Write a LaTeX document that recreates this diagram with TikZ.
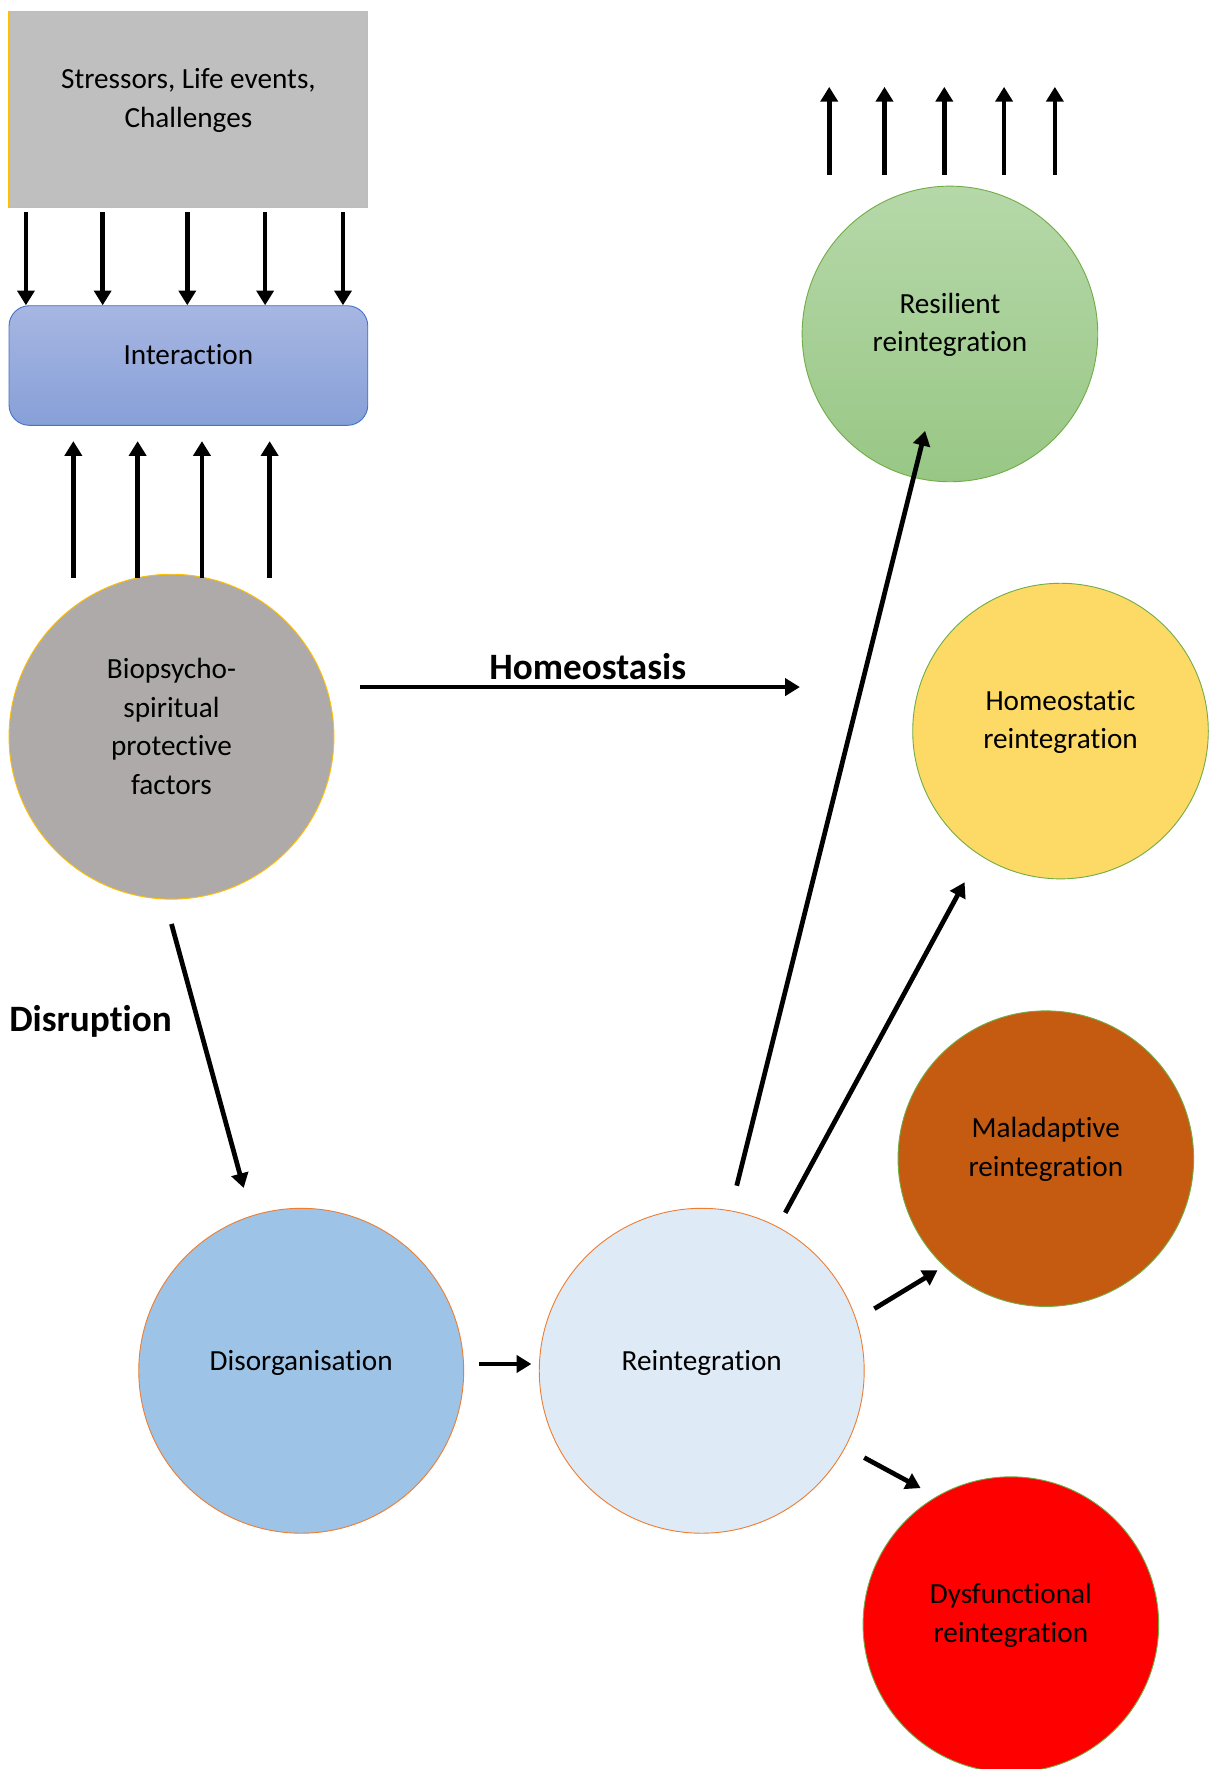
\documentclass[tikz,border=0pt]{standalone}
\usepackage{fontspec}
\setmainfont{Carlito}[RawFeature={-liga;-clig;-calt;-dlig}]
\usetikzlibrary{arrows.meta}
\definecolor{gold}{HTML}{FFC000}
\definecolor{greyfill}{HTML}{BFBFBF}
\definecolor{blueedge}{HTML}{4472C4}
\definecolor{intertop}{HTML}{A7B6E2}
\definecolor{interbot}{HTML}{87A0D8}
\definecolor{biofill}{HTML}{AEAAAA}
\definecolor{greenedge}{HTML}{70AD47}
\definecolor{restop}{HTML}{B6D8A9}
\definecolor{resbot}{HTML}{98C785}
\definecolor{homfill}{HTML}{FDD966}
\definecolor{malfill}{HTML}{C55A11}
\definecolor{dysfill}{HTML}{FF0000}
\definecolor{orangeedge}{HTML}{ED7D31}
\definecolor{disfill}{HTML}{9DC3E6}
\definecolor{reifill}{HTML}{DEEBF7}
\begin{document}
\begin{tikzpicture}[x=1pt,y=-1pt,
  txt/.style={font=\fontsize{25.9}{34.3}\selectfont, align=center, inner sep=0pt},
  lbl/.style={font=\fontsize{33}{40}\selectfont\bfseries, inner sep=0pt},
  ring/.style={circle, minimum size=#1, inner sep=0pt, line width=0.8pt},
  arr/.style={line width=4.2pt, -{Triangle[length=13pt,width=15pt]}},
]
\clip (0,0) rectangle (1080,1568);
\fill[white] (0,0) rectangle (1080,1568);

% top boxes
\node[draw=gold, fill=greyfill, line width=1pt, minimum width=318pt, minimum height=174pt,
  inner sep=0pt, label={[txt,yshift=8pt]center:Stressors, Life events,\\Challenges}]
  (stress) at (167,97) {};
\node[draw=blueedge, top color=intertop, bottom color=interbot, line width=0.8pt,
  rounded corners=18pt, minimum width=318pt, minimum height=106pt, inner sep=0pt,
  label={[txt,yshift=10pt]center:Interaction}]
  (inter) at (167,324) {};

% circles
\node[ring=288pt, draw=gold, fill=biofill,
  label={[txt,yshift=9pt]center:Biopsycho-\\spiritual\\protective\\factors}]
  (bio) at (152,653) {};
\node[ring=262pt, draw=greenedge, top color=restop, bottom color=resbot,
  label={[txt,yshift=8pt]center:Resilient\\reintegration}]
  (res) at (842,296) {};
\node[ring=262pt, draw=greenedge, fill=homfill,
  label={[txt,yshift=8pt]center:Homeostatic\\reintegration}]
  (hom) at (940,648) {};
\node[ring=262pt, draw=greenedge, fill=malfill,
  label={[txt,yshift=8pt]center:Maladaptive\\reintegration}]
  (mal) at (927,1027) {};
\node[ring=262pt, draw=greenedge, fill=dysfill,
  label={[txt,yshift=8pt]center:Dysfunctional\\reintegration}]
  (dys) at (896,1440) {};
\node[ring=288pt, draw=orangeedge, fill=disfill,
  label={[txt,yshift=7pt]center:Disorganisation}]
  (dis) at (267,1215) {};
\node[ring=288pt, draw=orangeedge, fill=reifill,
  label={[txt,yshift=7pt]center:Reintegration}]
  (rei) at (622,1215) {};

% stressors acting on the interaction
\foreach \x in {23,91,166,235,304} {
  \coordinate (dn\x) at (\x,188);
  \draw[arr] (dn\x) -- (inter.north -| dn\x);
}
% protective factors feeding the interaction
\foreach \x in {65,122,179,239} {
  \coordinate (upa\x) at (\x,512);
  \coordinate (upb\x) at (\x,391);
  \draw[arr] (upa\x) -- (upb\x);
}
% arrows leaving resilient reintegration
\foreach \x in {735,784,837,890,935} {
  \coordinate (ra\x) at (\x,155);
  \coordinate (rb\x) at (\x,77);
  \draw[arr] (ra\x) -- (rb\x);
}

% homeostasis
\coordinate (hA) at (319,609);
\coordinate (hB) at (709,609);
\draw[arr] (hA) -- (hB);
\node[lbl] (homlbl) at (521,591) {Homeostasis};

% disruption
\coordinate (dA) at (152,819);
\coordinate (dB) at (216,1053);
\draw[arr] (dA) -- (dB);
\node[lbl, anchor=west] (dislbl) at (8,905) {Disruption};

% disorganisation to reintegration
\coordinate (oA) at (425,1209);
\coordinate (oB) at (471,1209);
\draw[arr] (oA) -- (oB);

% reintegration outcomes
\coordinate (r1a) at (653,1051);
\coordinate (r1b) at (820,382);
\draw[arr] (r1a) -- (r1b);
\coordinate (r2a) at (696,1075);
\coordinate (r2b) at (855,782);
\draw[arr] (r2a) -- (r2b);
\coordinate (r3a) at (775,1160);
\coordinate (r3b) at (831,1126);
\draw[arr] (r3a) -- (r3b);
\coordinate (r4a) at (766,1292);
\coordinate (r4b) at (816,1319);
\draw[arr] (r4a) -- (r4b);
\end{tikzpicture}
\end{document}
